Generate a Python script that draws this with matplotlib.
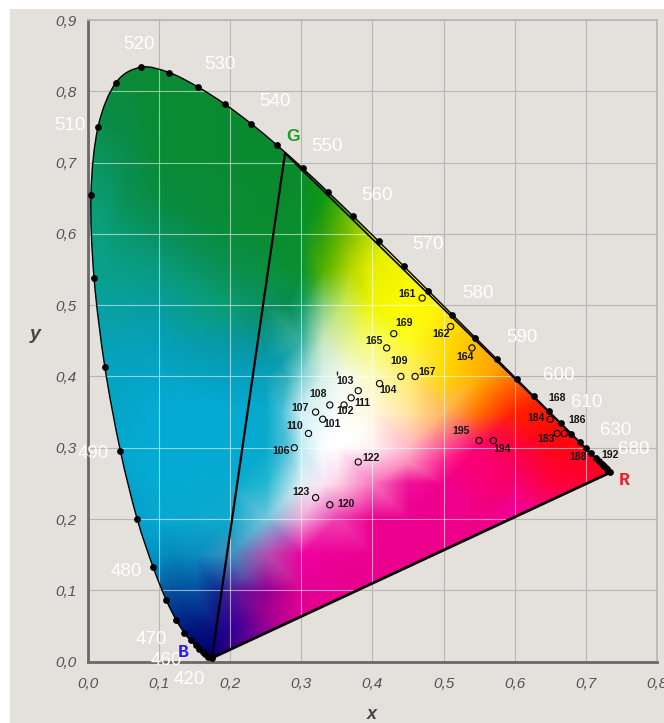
# CIE 1931 chromaticity diagram with measured sample points
import numpy as np
import matplotlib
matplotlib.use("Agg")
import matplotlib.pyplot as plt
import matplotlib.tri as mtri
from matplotlib.colors import to_rgb
from matplotlib.patches import PathPatch, Rectangle
from matplotlib.path import Path

# Spectral locus, 5 nm steps from 440 to 700 nm
locus_x = [0.1741, 0.1680, 0.1644, 0.1611, 0.1566, 0.1510, 0.1440, 0.1355, 0.1241, 0.1096, 0.0913, 0.0687,
           0.0454, 0.0235, 0.0082, 0.0039, 0.0139, 0.0389, 0.0743, 0.1142, 0.1547, 0.1929, 0.2296, 0.2658,
           0.3016, 0.3373, 0.3731, 0.4087, 0.4441, 0.4788, 0.5125, 0.5448, 0.5752, 0.6029, 0.6270, 0.6482,
           0.6658, 0.6801, 0.6915, 0.7006, 0.7079, 0.7140, 0.7190, 0.7230, 0.7260, 0.7283, 0.7300, 0.7320, 0.7347]
locus_y = [0.0050, 0.0070, 0.0109, 0.0138, 0.0177, 0.0227, 0.0297, 0.0399, 0.0578, 0.0868, 0.1327, 0.2007,
           0.2950, 0.4127, 0.5384, 0.6548, 0.7502, 0.8120, 0.8338, 0.8262, 0.8059, 0.7816, 0.7543, 0.7243,
           0.6923, 0.6589, 0.6245, 0.5896, 0.5547, 0.5202, 0.4866, 0.4544, 0.4242, 0.3965, 0.3725, 0.3514,
           0.3340, 0.3197, 0.3083, 0.2993, 0.2920, 0.2859, 0.2809, 0.2770, 0.2740, 0.2717, 0.2700, 0.2680, 0.2653]

# Wavelength labels
wl_labels = ["520", "530", "540", "550", "560", "570", "580", "590", "600", "610", "630", "680",
             "510", "490", "480", "470", "460", "420"]
wl_x = [0.0714, 0.185, 0.2625, 0.3356, 0.407, 0.4775, 0.5478, 0.6096, 0.6616, 0.701, 0.7417, 0.7684,
        -0.0256, 0.0067, 0.0531, 0.0883, 0.1093, 0.1416]
wl_y = [0.866, 0.838, 0.785, 0.722, 0.6545, 0.5845, 0.517, 0.454, 0.402, 0.364, 0.3235, 0.297,
        0.7527, 0.2926, 0.127, 0.0317, 0.002, -0.0258]

# Primaries
prim_r = (0.7347, 0.2653)
prim_g = (0.277, 0.713)
prim_b = (0.1741, 0.005)

# Sample points
sample_ids = ["161", "162", "164", "169", "165", "109", "167", "104", "103", "111", "102", "108",
              "107", "101", "110", "106", "122", "123", "120", "195", "194", "184", "183", "186"]
sample_x = [0.47, 0.51, 0.54, 0.43, 0.42, 0.44, 0.46, 0.41, 0.38, 0.37, 0.36, 0.34,
            0.32, 0.33, 0.31, 0.29, 0.38, 0.32, 0.34, 0.55, 0.57, 0.65, 0.66, 0.67]
sample_y = [0.51, 0.47, 0.44, 0.46, 0.44, 0.40, 0.40, 0.39, 0.38, 0.37, 0.36, 0.36,
            0.35, 0.34, 0.32, 0.30, 0.28, 0.23, 0.22, 0.31, 0.31, 0.34, 0.32, 0.32]
label_dx = [-15, -10, -7, 10, -13, -2, 12, 9, -13, 11, 1, -12, -15, 9, -14, -13, 13, -15, 16, -18, 9, -14, -11, 13]
label_dy = [4, -7, -9, 11, 7, 15, 4, -6, 10, -5, -6, 11, 4, -5, 7, -3, 4, 6, 1, 10, -8, 1, -6, 13]

# Labels whose marker is hidden under the locus
extra_ids = ["168", "188", "192"]
extra_x = [0.66, 0.69, 0.735]
extra_y = [0.37, 0.287, 0.29]

# Colour field
field = [
    (-0.05, 0.90, "#0a8a35"), (0.07, 0.82, "#0a8a35"), (0.20, 0.80, "#0a8a30"), (0.30, 0.75, "#0a8a2e"),
    (0.10, 0.70, "#0a8a35"), (0.20, 0.70, "#0a8a30"), (0.30, 0.68, "#0a8a2c"), (0.05, 0.70, "#0a8e50"),
    (0.02, 0.60, "#0ba080"), (0.05, 0.60, "#0a9870"), (0.05, 0.65, "#0a9058"), (0.10, 0.65, "#098c40"),
    (0.10, 0.60, "#0a9060"), (0.10, 0.55, "#0a9a80"), (0.03, 0.55, "#09a088"), (0.05, 0.50, "#08a0a0"),
    (0.10, 0.50, "#089ca0"), (0.10, 0.45, "#05a0b8"), (0.05, 0.45, "#08a0b4"), (0.20, 0.65, "#0a8a34"),
    (0.20, 0.60, "#0a8c38"), (0.20, 0.55, "#0a9050"), (0.20, 0.50, "#0a9c70"), (0.20, 0.45, "#0898a0"),
    (0.25, 0.43, "#0898a8"), (0.27, 0.42, "#0a9cb0"), (0.25, 0.50, "#0a9060"), (0.28, 0.50, "#088a50"),
    (0.30, 0.50, "#109c68"), (0.25, 0.60, "#0a8c30"), (0.30, 0.55, "#0a9030"), (0.30, 0.60, "#0a8f2c"),
    (0.33, 0.65, "#109a10"), (0.33, 0.60, "#30a010"), (0.36, 0.60, "#70b800"), (0.40, 0.60, "#c0e000"),
    (0.33, 0.55, "#50b000"), (0.37, 0.55, "#b8d800"), (0.40, 0.55, "#e8f000"), (0.33, 0.50, "#88cc80"),
    (0.36, 0.50, "#c8e860"), (0.40, 0.50, "#f0f800"), (0.30, 0.45, "#38b0a0"), (0.33, 0.45, "#c8e8c0"),
    (0.38, 0.45, "#f0f880"), (0.30, 0.40, "#80d0d8"), (0.33, 0.40, "#d8f0e8"), (0.36, 0.40, "#f4faf0"),
    (0.30, 0.35, "#d0f0f4"), (0.27, 0.35, "#40bcd8"), (0.25, 0.35, "#08aacc"), (0.20, 0.35, "#05aad4"),
    (0.10, 0.35, "#05aad4"), (0.28, 0.40, "#30b0b8"), (0.25, 0.40, "#08a0b8"), (0.20, 0.40, "#05a0c0"),
    (0.10, 0.40, "#05a6c8"), (0.05, 0.40, "#05a4c4"), (0.05, 0.30, "#05a8d0"), (0.10, 0.25, "#05aad4"),
    (0.10, 0.20, "#08a8d0"), (0.10, 0.15, "#0590c0"), (0.12, 0.15, "#0588b8"), (0.15, 0.15, "#0a8cc0"),
    (0.20, 0.15, "#3a90c0"), (0.12, 0.10, "#05509c"), (0.15, 0.10, "#0550a0"), (0.18, 0.10, "#102890"),
    (0.20, 0.10, "#4a1898"), (0.25, 0.10, "#900090"), (0.30, 0.10, "#e00090"), (0.15, 0.05, "#001880"),
    (0.18, 0.05, "#101080"), (0.20, 0.05, "#300098"), (0.25, 0.07, "#a00090"), (0.17, 0.01, "#000070"),
    (0.20, 0.20, "#10aacc"), (0.25, 0.20, "#70c4dc"), (0.30, 0.20, "#f0a8d8"), (0.35, 0.20, "#f040b0"),
    (0.40, 0.20, "#ec0090"), (0.25, 0.15, "#b050b0"), (0.30, 0.15, "#f000a0"), (0.40, 0.15, "#ec0090"),
    (0.22, 0.12, "#6050a8"), (0.25, 0.25, "#20b8d0"), (0.20, 0.25, "#08aad0"), (0.20, 0.30, "#05aad4"),
    (0.30, 0.25, "#e0f0f4"), (0.33, 0.25, "#f8e8f4"), (0.35, 0.25, "#fcd4e8"), (0.40, 0.25, "#f878c0"),
    (0.45, 0.25, "#f01098"), (0.50, 0.25, "#f0008c"), (0.45, 0.20, "#ec0090"), (0.55, 0.20, "#f00088"),
    (0.25, 0.30, "#08aacc"), (0.28, 0.30, "#50c0d8"), (0.30, 0.30, "#c0ecf4"), (0.33, 0.30, "#fafeff"),
    (0.35, 0.30, "#ffffff"), (0.35, 0.33, "#ffffff"), (0.38, 0.32, "#ffffff"), (0.40, 0.30, "#fff0f4"),
    (0.45, 0.30, "#ffb8c8"), (0.40, 0.35, "#fff8e0"), (0.45, 0.35, "#ffe8a0"), (0.50, 0.35, "#ffb860"),
    (0.50, 0.30, "#ff5098"), (0.55, 0.30, "#ff0070"), (0.45, 0.28, "#fc90c0"), (0.50, 0.28, "#ff2090"),
    (0.55, 0.35, "#ff7000"), (0.60, 0.35, "#ff2000"), (0.60, 0.30, "#ff0040"), (0.55, 0.40, "#ffb000"),
    (0.50, 0.40, "#ffd800"), (0.45, 0.40, "#ffee70"), (0.40, 0.40, "#fcfcc0"), (0.45, 0.45, "#fcfc20"),
    (0.50, 0.45, "#ffe000"), (0.40, 0.45, "#f8fc70"), (0.45, 0.50, "#fffc00"), (0.50, 0.50, "#fff000"),
    (0.42, 0.58, "#e8f000"), (0.60, 0.42, "#ff9000"), (0.65, 0.37, "#ff2000"), (0.65, 0.32, "#ff0808"),
    (0.70, 0.28, "#ff0020"), (0.75, 0.28, "#ff0010"), (0.60, 0.27, "#f80060"), (0.65, 0.25, "#ff0040"),
    (0.60, 0.22, "#f40090"), (0.80, 0.30, "#ff0010"), (0.80, 0.20, "#ff0040"), (0.55, 0.15, "#f00088"),
    (0.35, 0.10, "#e80090"), (0.30, 0.00, "#e00090"), (0.10, 0.00, "#000070"), (-0.05, 0.00, "#05509c"),
    (-0.05, 0.50, "#08a0a0"), (0.80, 0.00, "#f00088"), (0.50, 0.60, "#ffff00"), (0.40, 0.70, "#60b000"),
    (0.70, 0.40, "#ff2000"), (0.40, 0.90, "#0a8a2e"),
]
field_x = [p[0] for p in field]
field_y = [p[1] for p in field]
field_hex = [p[2] for p in field]

# Stray tick by label 103
stray_x = [0.3497]
stray_y = [0.405]

tick_x = [0.0, 0.1, 0.2, 0.3, 0.4, 0.5, 0.6, 0.7, 0.8]
tick_y = [0.0, 0.1, 0.2, 0.3, 0.4, 0.5, 0.6, 0.7, 0.8, 0.9]

plt.rcParams['font.family'] = ['Liberation Sans', 'DejaVu Sans']
BG = "#e4e1dc"
GRID = "#b8b6b2"


def smooth_path(xs, ys, closed=False):
    # Catmull-Rom through the points, as cubic bezier pieces
    pts = np.column_stack([xs, ys])
    verts = [pts[0]]
    codes = [Path.MOVETO]
    for i in range(len(pts) - 1):
        p0 = pts[max(i - 1, 0)]
        p1, p2 = pts[i], pts[i + 1]
        p3 = pts[min(i + 2, len(pts) - 1)]
        verts += [p1 + (p2 - p0) / 6, p2 - (p3 - p1) / 6, p2]
        codes += [Path.CURVE4] * 3
    if closed:
        verts.append(pts[0])
        codes.append(Path.LINETO)
    return Path(verts, codes)


fig = plt.figure(figsize=(6.64, 7.23), dpi=100, facecolor="white")
fig.add_artist(Rectangle((10 / 664, 0), 654 / 664, 714 / 723, transform=fig.transFigure, fc=BG, ec="none", zorder=-1))

ax = fig.add_axes([88.2 / 664, (723 - 661.6) / 723, 568.5 / 664, 641.6 / 723], facecolor="none")
ax.set_xlim(0, 0.8)
ax.set_ylim(0, 0.9)

# Gray grid outside the diagram
ax.set_xticks(tick_x)
ax.set_yticks(tick_y)
ax.set_xticklabels([f"{t:.1f}".replace(".", ",") for t in tick_x])
ax.set_yticklabels([f"{t:.1f}".replace(".", ",") for t in tick_y])
ax.tick_params(length=0, labelsize=11, labelcolor="#555555", pad=8)
ax.tick_params(axis="x", pad=11)
for lab in ax.get_xticklabels() + ax.get_yticklabels():
    lab.set_fontstyle("italic")
ax.grid(True, color=GRID, lw=0.8, zorder=1)
ax.set_axisbelow(True)
for side in ["top", "right"]:
    ax.spines[side].set_color(GRID)
    ax.spines[side].set_linewidth(1.2)
for side in ["left", "bottom"]:
    ax.spines[side].set_color("#696969")
    ax.spines[side].set_linewidth(2.0)

# Colour field clipped to the locus
tri = mtri.Triangulation(field_x, field_y)
gx, gy = np.meshgrid(np.linspace(0, 0.8, 800), np.linspace(0, 0.9, 900))
rgb = np.array([to_rgb(c) for c in field_hex])
img = np.dstack([mtri.LinearTriInterpolator(tri, rgb[:, i])(gx, gy).filled(1.0) for i in range(3)])
im = ax.imshow(np.clip(img, 0, 1), origin="lower", extent=(0, 0.8, 0, 0.9), aspect="auto",
               interpolation="bilinear", zorder=2)
outline = PathPatch(smooth_path(locus_x, locus_y, closed=True), transform=ax.transData, fc="none", ec="none")
ax.add_patch(outline)
im.set_clip_path(outline)

# Lighter grid over the colours
for t in tick_x[1:-1]:
    ax.axvline(t, color="white", alpha=0.55, lw=0.8, zorder=3).set_clip_path(outline)
for t in tick_y[1:-1]:
    ax.axhline(t, color="white", alpha=0.55, lw=0.8, zorder=3).set_clip_path(outline)

# Locus, gamut triangle and wavelength dots
ax.add_patch(PathPatch(smooth_path(locus_x, locus_y), fc="none", ec="black", lw=1.0, zorder=4, clip_on=False))
ax.plot([prim_b[0], prim_g[0]], [prim_b[1], prim_g[1]], color="black", lw=1.6, zorder=5)
ax.plot([prim_b[0], prim_r[0]], [prim_b[1], prim_r[1]], color="black", lw=2.0, zorder=5)
ax.plot([prim_g[0], prim_r[0]], [prim_g[1], prim_r[1]], color="black", lw=1.2, zorder=5)
ax.scatter(locus_x, locus_y, s=24, color="black", lw=0, zorder=6, clip_on=False)

# White wavelength labels
for txt, x, y in zip(wl_labels, wl_x, wl_y):
    ax.text(x, y, txt, color="white", fontsize=13.5, ha="center", va="center", zorder=7)

# Sample markers and labels
ax.scatter(sample_x, sample_y, s=20, facecolors="none", edgecolors="black", linewidths=0.8, zorder=7)
ax.plot(stray_x, stray_y, marker="|", ms=2.5, color="#222222", ls="none", zorder=7)
for txt, x, y, dx, dy in zip(sample_ids, sample_x, sample_y, label_dx, label_dy):
    ax.annotate(txt, (x, y), xytext=(dx, dy), textcoords="offset pixels", fontsize=7.6, fontweight="bold",
                color="#151515", ha="center", va="center", zorder=8)
for txt, x, y in zip(extra_ids, extra_x, extra_y):
    ax.text(x, y, txt, fontsize=7.6, fontweight="bold", color="#151515", ha="center", va="center", zorder=8)

# Primary names
ax.text(0.7545, 0.2545, "R", color="#ee1c25", fontsize=13, fontweight="bold", family="Liberation Mono",
        ha="center", va="center", zorder=8)
ax.text(0.134, 0.0125, "B", color="#2a1ee0", fontsize=13, fontweight="bold", family="Liberation Mono",
        ha="center", va="center", zorder=8)
ax.text(0.288, 0.737, "G", color="#1f9a1f", fontsize=12.5, fontweight="bold", ha="center", va="center", zorder=8)

# Axis names
ax.set_xlabel("x", fontsize=13, fontweight="bold", fontstyle="italic", color="#444444")
ax.set_ylabel("y", fontsize=14, fontweight="bold", fontstyle="italic", color="#444444", rotation=0)
ax.xaxis.set_label_coords(0.498, -0.069)
ax.yaxis.set_label_coords(-0.0931, 0.496)

fig.savefig("out.png", dpi=100, facecolor=fig.get_facecolor())
